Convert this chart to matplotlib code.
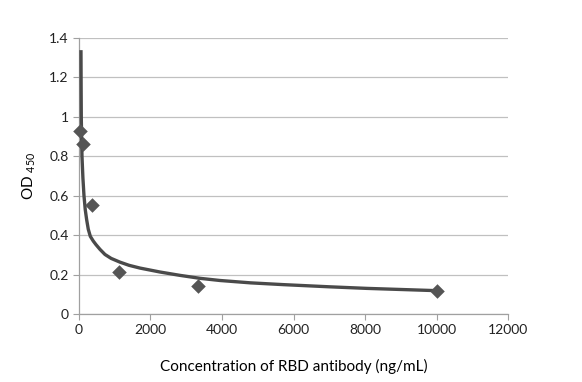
import matplotlib
matplotlib.use("Agg")
import matplotlib.pyplot as plt

# measured points (concentration ng/mL, OD450)
conc = [41, 123, 370, 1111, 3333, 10000]
od = [0.93, 0.86, 0.554, 0.213, 0.140, 0.118]

# trend curve
trend_x = [56, 60, 65, 84, 110, 140, 175, 215, 260, 317, 400, 475, 587, 727,
           900, 1147, 1400, 1706, 2266, 2825, 3385, 3944, 4800, 5715, 7000,
           8047, 9911, 10000]
trend_y = [1.33, 1.15, 0.99, 0.80, 0.69, 0.60, 0.53, 0.478, 0.43, 0.394,
           0.37, 0.352, 0.328, 0.302, 0.282, 0.263, 0.247, 0.233, 0.213,
           0.196, 0.181, 0.170, 0.158, 0.149, 0.138, 0.130, 0.119, 0.118]

x_ticks = [0, 2000, 4000, 6000, 8000, 10000, 12000]
y_ticks = [0, 0.2, 0.4, 0.6, 0.8, 1.0, 1.2, 1.4]
y_labels = ["0", "0.2", "0.4", "0.6", "0.8", "1", "1.2", "1.4"]

plt.rcParams['font.family'] = ['Lato', 'DejaVu Sans']

fig = plt.figure(figsize=(5.82, 3.82), dpi=100)
ax = fig.add_axes([0.1357, 0.178, 0.7372, 0.7225])

ax.plot(trend_x, trend_y, color='#4a4a4a', lw=2.4, solid_joinstyle='round',
        zorder=3, clip_on=False)
ax.scatter(conc, od, marker='D', s=55, color='#555555', zorder=4,
           linewidths=0, clip_on=False)

ax.set_xlim(0, 12000)
ax.set_ylim(0, 1.4)
ax.set_xticks(x_ticks)
ax.set_yticks(y_ticks)
ax.set_yticklabels(y_labels)
ax.tick_params(labelsize=10, colors='#222222', length=4, width=0.8)
ax.tick_params(axis='both', color='#a0a0a0')

ax.grid(axis='y', color='#c0c0c0', lw=0.9)
ax.set_axisbelow(True)
for s in ['top', 'right']:
    ax.spines[s].set_visible(False)
for s in ['left', 'bottom']:
    ax.spines[s].set_color('#a0a0a0')
    ax.spines[s].set_linewidth(0.9)
    ax.spines[s].set_zorder(2)

ax.set_xlabel('Concentration of RBD antibody (ng/mL)', fontsize=11, labelpad=16)
ax.set_ylabel(r'OD $_{\mathregular{450}}$', fontsize=11, labelpad=8)

fig.savefig('out.png', dpi=100)
